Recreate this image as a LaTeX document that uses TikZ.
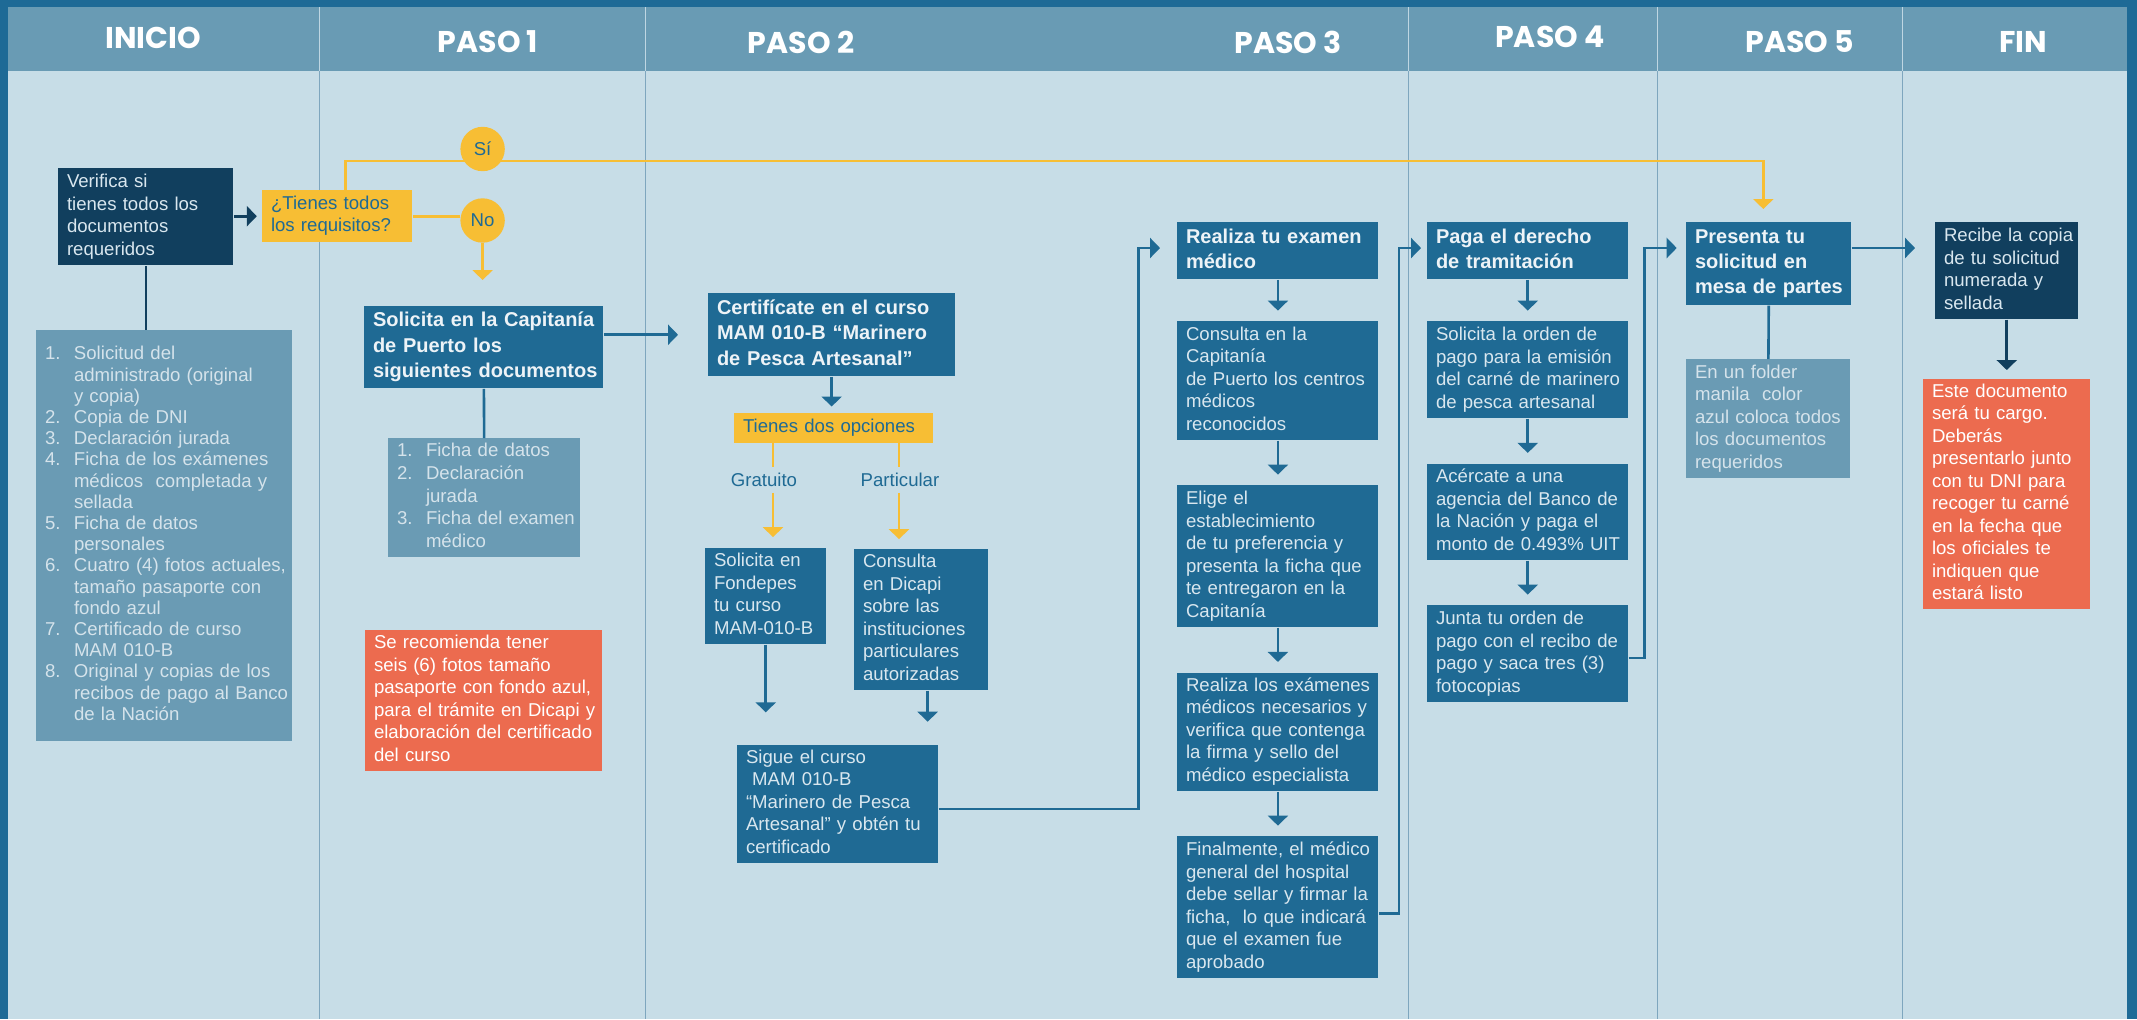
\documentclass[tikz,border=0pt]{standalone}
\usepackage{fontspec}
\setmainfont{Liberation Sans}
\newfontfamily\headfont{Poppins}
\usepackage{tikz}
\usetikzlibrary{arrows.meta}
\definecolor{frameblue}{HTML}{1E6A96}
\definecolor{headblue}{HTML}{699BB4}
\definecolor{bodybg}{HTML}{C7DDE7}
\definecolor{boxblue}{HTML}{1F6A94}
\definecolor{navybox}{HTML}{113F5E}
\definecolor{greyblue}{HTML}{6A9BB4}
\definecolor{gold}{HTML}{F7BE34}
\definecolor{notered}{HTML}{EC6B4F}
\definecolor{boxtext}{HTML}{D9E7EF}
\definecolor{boldtext}{HTML}{EDF3F7}
\definecolor{greytext}{HTML}{D5E3EB}
\definecolor{bodyline}{HTML}{7EA6BE}
\definecolor{headline}{HTML}{BFD6E2}
% lines that never wrap
\newcommand{\lns}[1]{\begin{tabular}{@{}l@{}}#1\end{tabular}}

\begin{document}
\begin{tikzpicture}[x=0.5pt, y=-0.5pt,
    txt/.style={anchor=north west, align=left, inner xsep=4.3pt, inner ysep=0pt,
      font=\fontsize{9.3}{11.25}\selectfont},
    bluebox/.style={txt, fill=boxblue, text=boxtext},
    darkbox/.style={txt, fill=navybox, text=boxtext},
    greybox/.style={txt, fill=greyblue, text=greytext},
    notebox/.style={txt, fill=notered, text=white},
    askbox/.style={txt, fill=gold, text=boxblue},
    headtext/.style={font=\bfseries\fontsize{10}{12.6}\selectfont, text=boldtext},
    colhead/.style={font=\headfont\bfseries\fontsize{15}{18}\selectfont, text=white, inner sep=0pt},
    answer/.style={circle, fill=gold, text=boxblue, minimum size=22.2pt, inner sep=0pt,
      font=\fontsize{9.3}{11}\selectfont},
    optlabel/.style={text=boxblue, inner sep=0pt, minimum height=12.5pt,
      font=\fontsize{9.3}{11}\selectfont},
    arr/.style={-{Triangle[width=10pt,length=5pt]}},
    blueline/.style={draw=boxblue, line width=1.3pt},
    darkline/.style={draw=navybox, line width=1.3pt},
    goldline/.style={draw=gold, line width=1.3pt}
  ]
\useasboundingbox (0,0) rectangle (2137,1019);
\fill[frameblue] (0,0) rectangle (2137,1019);
\fill[headblue] (8,7) rectangle (2127,71);
\fill[bodybg] (8,71) rectangle (2127,1019);
\foreach \x in {319,645,1408,1657,1902} {
  \draw[headline, line width=0.5pt] (\x,7) -- (\x,71);
  \draw[bodyline, line width=0.5pt] (\x,71) -- (\x,1019);
}

\node[colhead] (h0) at (153,38) {INICIO};
\node[colhead] (h1) at (488,42) {PASO 1};
\node[colhead] (h2) at (801,42) {PASO 2};
\node[colhead] (h3) at (1288,42) {PASO 3};
\node[colhead] (h4) at (1550,37) {PASO 4};
\node[colhead] (h5) at (1800,42) {PASO 5};
\node[colhead] (h6) at (2023,42) {FIN};

% inicio
\node[darkbox, text width=78.9pt, minimum height=48.5pt] (verifica) at (58,168)
  {\lns{Verifica si\\tienes todos los\\documentos\\requeridos}};
\node[askbox, text width=66.4pt, minimum height=25.8pt] (tienes) at (262,190)
  {\lns{¿Tienes todos\\los requisitos?}};
\node[greybox, text width=119.4pt, minimum height=205.5pt,
  font=\fontsize{9.3}{10.6}\selectfont] (lista) at (36,330)
  {\begin{tabular}{@{}p{14.5pt}@{}l@{}}
   1. & Solicitud del\\
      & administrado (original\\
      & y copia)\\
   2. & Copia de DNI\\
   3. & Declaración jurada\\
   4. & Ficha de los exámenes\\
      & médicos\ \ completada y\\
      & sellada\\
   5. & Ficha de datos\\
      & personales\\
   6. & Cuatro (4) fotos actuales,\\
      & tamaño pasaporte con\\
      & fondo azul\\
   7. & Certificado de curso\\
      & MAM 010-B\\
   8. & Original y copias de los\\
      & recibos de pago al Banco\\
      & de la Nación
  \end{tabular}};
\node[answer] (si) at (482.6,149) {Sí};
\node[answer] (no) at (482.6,220.5) {No};

% paso 1
\node[bluebox, headtext, text width=110.9pt, minimum height=41.25pt] (solicita) at (364,305.5)
  {\lns{Solicita en la Capitanía\\de Puerto los\\siguientes documentos}};
\node[greybox, text width=87.15pt, minimum height=59.25pt,
  font=\fontsize{9.3}{11.3}\selectfont] (fichas) at (388,438)
  {\begin{tabular}{@{}p{14.5pt}@{}l@{}}
   1. & Ficha de datos\\
   2. & Declaración\\
      & jurada\\
   3. & Ficha del examen\\
      & médico
  \end{tabular}};
\node[notebox, text width=109.9pt, minimum height=70.5pt] (nota1) at (365,629.5)
  {\lns{Se recomienda tener\\seis (6) fotos tamaño\\pasaporte con fondo azul,\\para el trámite en Dicapi y\\elaboración del certificado\\del curso}};

% paso 2
\node[bluebox, headtext, text width=114.65pt, minimum height=41.35pt] (certif) at (708,293)
  {\lns{Certifícate en el curso\\MAM 010-B “Marinero\\de Pesca Artesanal”}};
\node[askbox, text width=90.7pt, minimum height=14.75pt] (opciones) at (734,413) {Tienes dos opciones};
\node[optlabel] (gratis) at (764,480) {Gratuito};
\node[optlabel] (partic) at (900,480) {Particular};
\node[bluebox, text width=51.75pt, minimum height=48.2pt] (fondepes) at (705,547.3)
  {\lns{Solicita en\\Fondepes\\tu curso\\MAM-010-B}};
\node[bluebox, text width=58.25pt, minimum height=70.7pt] (dicapi) at (854,548.3)
  {\lns{Consulta\\en Dicapi\\sobre las\\instituciones\\particulares\\autorizadas}};
\node[bluebox, text width=91.75pt, minimum height=59.2pt] (sigue) at (737,744.3)
  {\lns{Sigue el curso\\\ MAM 010-B\\“Marinero de Pesca\\Artesanal” y obtén tu\\certificado}};

% paso 3
\node[bluebox, headtext, text width=91.9pt, minimum height=28.5pt] (examen) at (1177,222)
  {\lns{Realiza tu examen\\médico}};
\node[bluebox, text width=91.9pt, minimum height=59.35pt] (consulta) at (1177,321)
  {\lns{Consulta en la\\Capitanía\\de Puerto los centros\\médicos\\reconocidos}};
\node[bluebox, text width=91.9pt, minimum height=70.85pt] (elige) at (1177,485)
  {\lns{Elige el\\establecimiento\\de tu preferencia y\\presenta la ficha que\\te entregaron en la\\Capitanía}};
\node[bluebox, text width=91.9pt, minimum height=59.2pt] (realiza) at (1177,672.3)
  {\lns{Realiza los exámenes\\médicos necesarios y\\verifica que contenga\\la firma y sello del\\médico especialista}};
\node[bluebox, text width=91.9pt, minimum height=70.85pt] (finalmente) at (1177,836)
  {\lns{Finalmente, el médico\\general del hospital\\debe sellar y firmar la\\ficha,\ \ lo que indicará\\que el examen fue\\aprobado}};

% paso 4
\node[bluebox, headtext, text width=91.75pt, minimum height=28.5pt] (paga) at (1427,222)
  {\lns{Paga el derecho\\de tramitación}};
\node[bluebox, text width=91.75pt, minimum height=48.35pt] (orden) at (1427,321)
  {\lns{Solicita la orden de\\pago para la emisión\\del carné de marinero\\de pesca artesanal}};
\node[bluebox, text width=91.75pt, minimum height=48.2pt] (acercate) at (1427,463.3)
  {\lns{Acércate a una\\agencia del Banco de\\la Nación y paga el\\monto de 0.493\% UIT}};
\node[bluebox, text width=91.75pt, minimum height=48.35pt] (junta) at (1427,605)
  {\lns{Junta tu orden de\\pago con el recibo de\\pago y saca tres (3)\\fotocopias}};

% paso 5 y fin
\node[bluebox, headtext, text width=73.75pt, minimum height=41.35pt] (presenta) at (1686,222)
  {\lns{Presenta tu\\solicitud en\\mesa de partes}};
\node[greybox, text width=73.4pt, minimum height=59.35pt] (folder) at (1686,359)
  {\lns{En un folder\\manila\ \ color\\azul coloca todos\\los documentos\\requeridos}};
\node[darkbox, text width=62.75pt, minimum height=48.35pt] (recibe) at (1935,222)
  {\lns{Recibe la copia\\de tu solicitud\\numerada y\\sellada}};
\node[notebox, text width=74.75pt, minimum height=115.2pt] (nota2) at (1923,378.3)
  {\lns{Este documento\\será tu cargo.\\Deberás\\presentarlo junto\\con tu DNI para\\recoger tu carné\\en la fecha que\\los oficiales te\\indiquen que\\estará listo}};

\coordinate (ysi) at (345.6,161);
\coordinate (ydrop) at (1763.3,161);
\coordinate (gx) at (773,0);
\coordinate (px) at (899,0);
\coordinate (c3) at (1138.3,248);
\coordinate (c4) at (1399,248);
\coordinate (c5) at (1644.3,248);

% amarillo
\draw[goldline, arr, shorten >=6.5pt] (tienes.north -| ysi) -- (ysi) -- (ydrop) -- (ydrop |- presenta.north);
\draw[goldline] (tienes.east) -- (tienes.east -| no.west);
\draw[goldline, arr, shorten >=12.75pt] (no.south) -- (no.south |- solicita.north);
\draw[goldline] (opciones.south -| gx) -- (gratis.north -| gx);
\draw[goldline, arr, shorten >=5.1pt] (gratis.south -| gx) -- (fondepes.north -| gx);
\draw[goldline] (opciones.south -| px) -- (partic.north -| px);
\draw[goldline, arr, shorten >=4.6pt] (partic.south -| px) -- (dicapi.north -| px);

% oscuro
\draw[darkline, arr, shorten >=2.6pt] (verifica.east |- tienes.west) -- (tienes.west);
\draw[darkline] (verifica.south) -- (verifica.south |- lista.north);
\draw[darkline, arr, shorten >=4.15pt] (recibe.south) -- (recibe.south |- nota2.north);

% azul
\draw[blueline] (solicita.south) -- (fichas.north);
\draw[blueline, arr, shorten >=15pt] (solicita.east |- certif.west) -- (certif.west);
\draw[blueline, arr, shorten >=3.25pt] (certif.south) -- (certif.south |- opciones.north);
\draw[blueline, arr, shorten >=16pt] (fondepes.south) -- (fondepes.south |- sigue.north);
\draw[blueline, arr, shorten >=11.3pt] ([xshift=3.2pt]dicapi.south) -- ([xshift=3.2pt]dicapi.south |- sigue.north);
\foreach \a/\b in {examen/consulta, consulta/elige, elige/realiza, realiza/finalmente,
                   paga/orden, orden/acercate, acercate/junta}
  \draw[blueline, arr, shorten >=5.2pt] (\a.south) -- (\b.north);
\draw[blueline, arr, shorten >=8.5pt] ([yshift=-2.5pt]sigue.east) -| (c3) -- (c3 -| examen.west);
\draw[blueline, arr, shorten >=3pt] ([yshift=-3.2pt]finalmente.east) -| (c4) -- (c4 -| paga.west);
\draw[blueline, arr, shorten >=4.65pt] ([yshift=-2.2pt]junta.east) -| (c5) -- (c5 -| presenta.west);
\draw[blueline] (presenta.south) -- (folder.north);
\draw[blueline, arr, shorten >=10pt] (presenta.east |- c5) -- (recibe.west |- c5);
\end{tikzpicture}
\end{document}
